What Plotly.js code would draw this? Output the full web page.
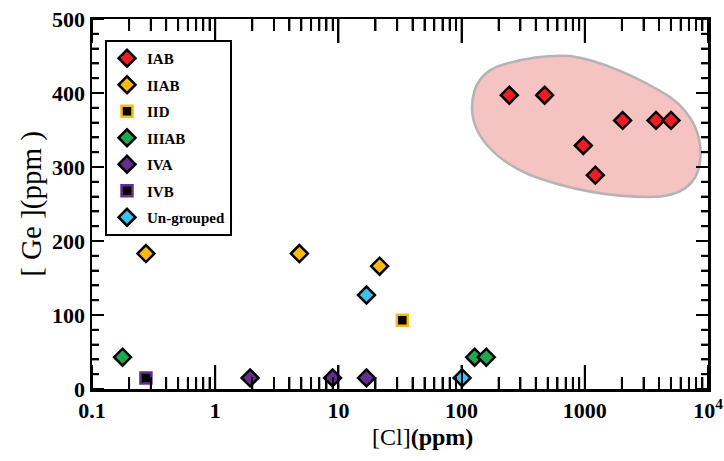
<!DOCTYPE html>
<html>
<head>
<meta charset="utf-8">
<script src="https://cdn.plot.ly/plotly-3.0.1.min.js"></script>
<style>html,body{margin:0;padding:0;background:#fff;}#chart{width:724px;height:461px;}</style>
</head>
<body>
<div id="chart"></div>
<script>
// ---- data (Cl ppm, Ge ppm) ----
const groups = ['IAB', 'IIAB', 'IID', 'IIIAB', 'IVA', 'IVB', 'Un-grouped'];
const IAB_cl = [244, 472, 972, 1217, 2027, 3785, 5010];
const IAB_ge = [397, 397, 329, 289, 363, 363, 363];
const IIAB_cl = [0.274, 4.82, 21.6];
const IIAB_ge = [183, 183, 166];
const IID_cl = [33.0];
const IID_ge = [93];
const IIIAB_cl = [0.177, 127.6, 158.6];
const IIIAB_ge = [43, 43, 43];
const IVA_cl = [1.92, 8.97, 16.9];
const IVA_ge = [15, 15, 15];
const IVB_cl = [0.274];
const IVB_ge = [15];
const UNG_cl = [16.9, 101];
const UNG_ge = [127, 15];
const xTickVals = [0.1, 1, 10, 100, 1000, 10000];
const xTickText = ['0.1', '1', '10', '100', '1000', '10<sup>4</sup>'];
const yTickVals = [0, 100, 200, 300, 400, 500];

// minor tick positions
const xMinor = [];
for (let d = 0.1; d < 5000; d *= 10) for (let k = 2; k <= 9; k++) xMinor.push(+(k * d).toPrecision(3));
const yMinor = [];
for (let v = 20; v < 500; v += 20) if (v % 100) yMinor.push(v);

// ---- layout geometry ----
const W = 724, H = 461;
const M = {l: 92, r: 16, t: 19, b: 72};
const PW = W - M.l - M.r, PH = H - M.t - M.b;
const XR = [-1, 4], YR = [0, 500];
const px = x => ((x - M.l) / PW).toFixed(4);
const py = y => ((M.t + PH - y) / PH).toFixed(4);
// outline of the shaded IAB region (page pixels, converted to paper coords)
const blob = [
  ['M', 472, 108],
  ['C', 472, 85, 482, 70, 505, 64],
  ['C', 530, 57, 550, 55, 570, 56],
  ['C', 600, 60, 640, 78, 670, 97],
  ['C', 695, 115, 703, 140, 700, 162],
  ['C', 697, 185, 680, 197, 650, 197],
  ['C', 610, 197, 570, 190, 530, 175],
  ['C', 495, 160, 472, 135, 472, 108]
];
const blobPath = blob.map(s => {
  const c = s.slice(1); const out = [];
  for (let i = 0; i < c.length; i += 2) out.push(px(c[i]) + ',' + py(c[i + 1]));
  return s[0] + out.join(' ');
}).join(' ') + ' Z';

const serif = '"Liberation Serif", "Times New Roman", serif';

// inward tick marks on all four sides (drawn as line traces on the axes' own scales)
const yPerPx = (YR[1] - YR[0]) / PH;          // data units per pixel on y
const logPerPx = (XR[1] - XR[0]) / PW;        // decades per pixel on x
const tkX = [], tkY = [];
function xTick(v, len) {
  const d = len * yPerPx;
  tkX.push(v, v, null, v, v, null);
  tkY.push(YR[0], YR[0] + d, null, YR[1], YR[1] - d, null);
}
function yTick(v, len) {
  const xl = Math.pow(10, XR[0] + len * logPerPx), xr = Math.pow(10, XR[1] - len * logPerPx);
  tkX.push(Math.pow(10, XR[0]), xl, null, Math.pow(10, XR[1]), xr, null);
  tkY.push(v, v, null, v, v, null);
}
xTickVals.forEach(v => xTick(v, 24));
xMinor.forEach(v => xTick(v, 12));
yTickVals.forEach(v => yTick(v, 12));
yMinor.forEach(v => yTick(v, 7));

function diamond(name, xs, ys, color) {
  return {type: 'scatter', mode: 'markers', name: name, x: xs, y: ys, legendgroup: name,
    marker: {symbol: 'diamond', size: 13, color: color, line: {color: '#000', width: 2.5}}};
}
function square(name, xs, ys, edge) {
  return {type: 'scatter', mode: 'markers', name: name, x: xs, y: ys, legendgroup: name,
    marker: {symbol: 'square', size: 11, color: '#000', line: {color: edge, width: 2.5}}};
}

const traces = [
  {type: 'scatter', mode: 'lines', x: tkX, y: tkY, showlegend: false, hoverinfo: 'skip',
   cliponaxis: false, connectgaps: false, line: {color: '#000', width: 2}},
  diamond(groups[0], IAB_cl, IAB_ge, '#ec1c24'),
  diamond(groups[1], IIAB_cl, IIAB_ge, '#fdb913'),
  square(groups[2], IID_cl, IID_ge, '#fdb913'),
  diamond(groups[3], IIIAB_cl, IIIAB_ge, '#1fa84f'),
  diamond(groups[4], IVA_cl, IVA_ge, '#662d91'),
  square(groups[5], IVB_cl, IVB_ge, '#662d91'),
  diamond(groups[6], UNG_cl, UNG_ge, '#3fc1ea')
];

const layout = {
  width: W, height: H,
  margin: M,
  paper_bgcolor: '#fff', plot_bgcolor: '#fff',
  font: {family: serif, color: '#000'},
  showlegend: true,
  legend: {
    x: (105 - M.l) / PW, y: (M.t + PH - 40) / PH, xanchor: 'left', yanchor: 'top',
    bordercolor: '#000', borderwidth: 2, bgcolor: '#fff',
    font: {family: serif, size: 15, weight: 'bold', color: '#000'},
    tracegroupgap: 4, itemsizing: 'trace'
  },
  xaxis: {
    type: 'log', range: XR,
    tickmode: 'array', tickvals: xTickVals, ticktext: xTickText,
    ticks: 'inside', ticklen: 24, tickwidth: 2, tickcolor: '#000',
    minor: {tickmode: 'array', tickvals: xMinor, ticks: 'inside', ticklen: 12, tickwidth: 2, tickcolor: '#000', showgrid: false},
    showline: true, linewidth: 2.5, linecolor: '#000', mirror: 'ticks',
    showgrid: false, zeroline: false,
    tickfont: {family: serif, size: 22, weight: 'bold', color: '#000'}
  },
  yaxis: {
    range: YR,
    tickmode: 'array', tickvals: yTickVals,
    ticks: 'inside', ticklen: 12, tickwidth: 2, tickcolor: '#000',
    minor: {tickmode: 'array', tickvals: yMinor, ticks: 'inside', ticklen: 7, tickwidth: 2, tickcolor: '#000', showgrid: false},
    showline: true, linewidth: 2.5, linecolor: '#000', mirror: 'ticks',
    showgrid: false, zeroline: false,
    tickfont: {family: serif, size: 22, weight: 'bold', color: '#000'},
    title: {text: '[ Ge ](ppm )', font: {family: serif, size: 29, color: '#000'}, standoff: 2}
  },
  annotations: [{
    text: '[Cl]<b>(ppm)</b>', xref: 'paper', yref: 'paper',
    x: (422 - M.l) / PW, y: (M.t + PH - 437) / PH, xanchor: 'center', yanchor: 'middle',
    showarrow: false, font: {family: serif, size: 24, color: '#000'}
  }],
  shapes: [{
    type: 'path', xref: 'paper', yref: 'paper', layer: 'between',
    path: blobPath, fillcolor: '#f5c3c1', line: {color: '#b4b4b4', width: 2.5}
  }]
};

Plotly.newPlot('chart', traces, layout, {displayModeBar: false, staticPlot: true});
</script>
</body>
</html>
